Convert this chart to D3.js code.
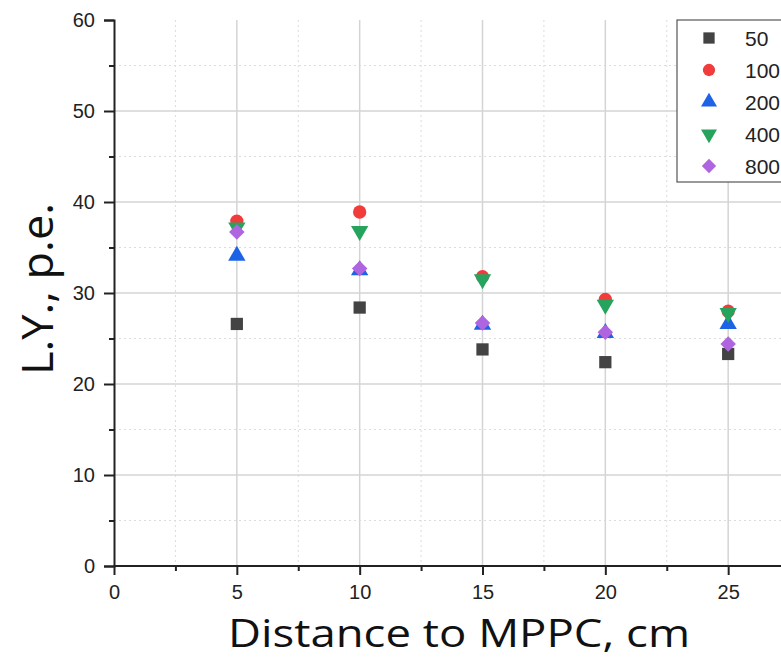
<!DOCTYPE html>
<html>
<head>
<meta charset="utf-8">
<script src="https://cdn.jsdelivr.net/npm/d3@7"></script>
<style>
  body { margin: 0; background: #fff; }
  svg { display: block; }
</style>
</head>
<body>
<div id="chart"></div>
<script>
const distances = [5, 10, 15, 20, 25];
const seriesNames = ["50", "100", "200", "400", "800"];
const ly50  = [26.6, 28.4, 23.8, 22.4, 23.3];
const ly100 = [37.9, 38.9, 31.8, 29.3, 28.0];
const ly200 = [34.1, 32.5, 26.5, 25.6, 26.6];
const ly400 = [37.2, 36.8, 31.5, 28.7, 27.8];
const ly800 = [36.7, 32.7, 26.7, 25.7, 24.4];
const xTicks = [0, 5, 10, 15, 20, 25];
const yTicks = [0, 10, 20, 30, 40, 50, 60];

const series = [
  { name: seriesNames[0], values: ly50,  color: "#434343", symbol: d3.symbolSquare,   size: 150, rot: 0 },
  { name: seriesNames[1], values: ly100, color: "#f23c3c", symbol: d3.symbolCircle,   size: 140, rot: 0 },
  { name: seriesNames[2], values: ly200, color: "#1c63e6", symbol: d3.symbolTriangle, size: 130, rot: 0 },
  { name: seriesNames[3], values: ly400, color: "#26a35c", symbol: d3.symbolTriangle, size: 130, rot: 180 },
  { name: seriesNames[4], values: ly800, color: "#b065e0", symbol: d3.symbolSquare,   size: 120, rot: 45 }
];

const W = 781, H = 659;
const font = "Liberation Sans, Arial, sans-serif";
const svg = d3.select("#chart").append("svg").attr("width", W).attr("height", H);

const x = d3.scaleLinear().domain([0, 30]).range([114, 851]);
const y = d3.scaleLinear().domain([0, 60]).range([566, 20]);

// grid
const grid = svg.append("g");
grid.selectAll(".gx").data(d3.range(2.5, 30, 5)).enter().append("line")
  .attr("x1", d => x(d)).attr("x2", d => x(d)).attr("y1", y(60)).attr("y2", y(0))
  .attr("stroke", "#dcdcdc").attr("stroke-dasharray", "2,3");
grid.selectAll(".gy").data(d3.range(5, 60, 10)).enter().append("line")
  .attr("x1", x(0)).attr("x2", W).attr("y1", d => y(d)).attr("y2", d => y(d))
  .attr("stroke", "#dcdcdc").attr("stroke-dasharray", "2,3");
grid.selectAll(".mx").data([5, 10, 15, 20, 25]).enter().append("line")
  .attr("x1", d => x(d)).attr("x2", d => x(d)).attr("y1", y(60)).attr("y2", y(0))
  .attr("stroke", "#d4d4d4").attr("stroke-width", 1.5);
grid.selectAll(".my").data([10, 20, 30, 40, 50]).enter().append("line")
  .attr("x1", x(0)).attr("x2", W).attr("y1", d => y(d)).attr("y2", d => y(d))
  .attr("stroke", "#d4d4d4").attr("stroke-width", 1.5);

// axes
const xAxis = svg.append("g").attr("transform", `translate(0,${y(0)})`)
  .call(d3.axisBottom(x).tickValues(xTicks).tickSize(9).tickPadding(10));
svg.append("g").attr("transform", `translate(0,${y(0)})`)
  .call(d3.axisBottom(x).tickValues(d3.range(2.5, 30, 5)).tickSize(5).tickFormat(""))
  .call(g => g.select(".domain").remove())
  .selectAll("line").attr("stroke-width", 2).attr("stroke", "#222");
const yAxis = svg.append("g").attr("transform", `translate(${x(0)},0)`)
  .call(d3.axisLeft(y).tickValues(yTicks).tickSize(10).tickPadding(9));
svg.append("g").attr("transform", `translate(${x(0)},0)`)
  .call(d3.axisLeft(y).tickValues(d3.range(5, 60, 10)).tickSize(5).tickFormat(""))
  .call(g => g.select(".domain").remove())
  .selectAll("line").attr("stroke-width", 2).attr("stroke", "#222");

[xAxis, yAxis].forEach(a => {
  a.attr("font-size", 20).attr("font-family", font);
  a.select(".domain").attr("stroke", "#222").attr("stroke-width", 2);
  a.selectAll(".tick line").attr("stroke", "#222").attr("stroke-width", 2);
  a.selectAll(".tick text").attr("fill", "#222").attr("font-size", 20);
});
xAxis.select(".domain").attr("d", `M${x(0)},0H${W}`);

// points
series.forEach(s => {
  const sym = d3.symbol().type(s.symbol).size(s.size);
  svg.append("g").selectAll("path").data(s.values).enter().append("path")
    .attr("d", sym)
    .attr("transform", (d, i) => `translate(${x(distances[i])},${y(d)}) rotate(${s.rot})`)
    .attr("fill", s.color);
});

// legend
const lg = svg.append("g");
lg.append("rect").attr("x", 677).attr("y", 20).attr("width", 120).attr("height", 162)
  .attr("fill", "#fff").attr("stroke", "#555").attr("stroke-width", 1.2);
series.forEach((s, i) => {
  const ly = 38 + i * 32;
  lg.append("path")
    .attr("d", d3.symbol().type(s.symbol).size(s.size * 0.85))
    .attr("transform", `translate(709,${ly}) rotate(${s.rot})`)
    .attr("fill", s.color);
  lg.append("text").attr("x", 745).attr("y", ly + 8).text(s.name)
    .attr("font-family", font).attr("font-size", 21).attr("fill", "#222");
});

// axis titles
svg.append("text").attr("x", 228).attr("y", 647)
  .attr("textLength", 462).attr("lengthAdjust", "spacingAndGlyphs")
  .attr("font-family", "Open Sans, Noto Sans, sans-serif").attr("font-size", 39).attr("fill", "#111")
  .text("Distance to MPPC, cm");
svg.append("text").attr("transform", "translate(53,375) rotate(-90)")
  .attr("textLength", 172).attr("lengthAdjust", "spacingAndGlyphs")
  .attr("font-family", "Open Sans, Noto Sans, sans-serif").attr("font-size", 44).attr("fill", "#111")
  .text("L.Y., p.e.");
</script>
</body>
</html>
